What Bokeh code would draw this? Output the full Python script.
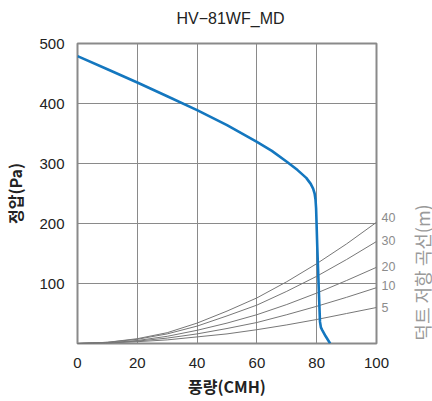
import math
from bokeh.plotting import figure
from bokeh.layouts import row, column
from bokeh.models import Range1d, FixedTicker, LinearAxis
from bokeh.core.properties import value
from bokeh.embed import file_html
from bokeh.resources import INLINE

# ---- data ----
fan_flow = [0, 10, 20, 30, 40, 50, 60, 65, 70, 73.6, 76.5, 78.0, 78.8, 79.3, 79.6,
            79.8, 80.2, 80.7, 81.1, 81.4, 81.9, 83.0, 84.5]
fan_pressure = [479, 457, 435, 412, 389, 364, 336, 321, 303, 289, 276, 266, 258, 250, 240,
                225, 160, 90, 36, 27, 22, 12, 0]

duct_flow = [0, 10, 20, 30, 40, 50, 60, 70, 80, 90, 100]
duct_names = ["5", "10", "20", "30", "40"]
duct_curves = {
    "5":  [0, 1, 3, 6, 11, 16, 23, 31, 40, 50, 60],
    "10": [0, 1, 4, 9, 16, 25, 35, 48, 62, 77, 93],
    "20": [0, 1, 5, 12, 22, 34, 48, 65, 84, 105, 127],
    "30": [0, 2, 7, 16, 29, 46, 64, 87, 112, 140, 170],
    "40": [0, 2, 8, 18, 34, 54, 76, 103, 133, 166, 202],
}
label_offsets = {"5": 0, "10": 3, "20": 1, "30": 1, "40": 8}

x_ticks = [0, 20, 40, 60, 80, 100]
y_ticks = [100, 200, 300, 400, 500]

title_text = "HV\u221281WF_MD"
x_label = "풍량(CMH)"
y_label = "정압(Pa)"
right_label = "덕트 저항 곡선(m)"

LATIN = "Liberation Sans"
KR = "Noto Sans CJK KR"

TITLE_H = 30
W, H = 432, 401
RIGHT_W = 32
FRAME_TOP, FRAME_BOTTOM = 43, 343


def bare(width, height, xr, yr):
    f = figure(width=width, height=height, output_backend="svg", toolbar_location=None,
               title=None, x_axis_type=None, y_axis_type=None,
               x_range=Range1d(*xr), y_range=Range1d(*yr),
               min_border_left=0, min_border_right=0, min_border_top=0, min_border_bottom=0)
    f.grid.visible = False
    f.outline_line_color = None
    f.background_fill_color = "white"
    f.border_fill_color = "white"
    return f


# title strip (coordinates = page pixels)
pt = bare(W, TITLE_H, (0, W), (TITLE_H, 0))
pt.text(x=[230], y=[17.5], text=[title_text], text_font=value(LATIN), text_font_size="16px",
        text_color="#222222", text_align="center", text_baseline="middle")

p = figure(width=W - RIGHT_W, height=H - TITLE_H, output_backend="svg", toolbar_location=None,
           title=None, x_range=Range1d(0, 100), y_range=Range1d(0, 500),
           min_border_left=77, min_border_right=24, min_border_top=FRAME_TOP - TITLE_H,
           min_border_bottom=H - FRAME_BOTTOM)
p.background_fill_color = "white"
p.border_fill_color = "white"
p.outline_line_color = "#8a8a8a"
p.outline_line_width = 2

p.xaxis.ticker = FixedTicker(ticks=x_ticks)
p.yaxis.ticker = FixedTicker(ticks=y_ticks)
for ax in (p.xaxis, p.yaxis):
    ax.axis_line_color = None
    ax.major_tick_line_color = None
    ax.minor_tick_line_color = None
    ax.major_tick_out = 0
    ax.major_tick_in = 0
    ax.major_label_text_font = LATIN
    ax.major_label_text_font_size = "15px"
    ax.major_label_text_color = "#222222"
    ax.axis_label_text_font = KR
    ax.axis_label_text_font_size = "16px"
    ax.axis_label_text_font_style = "bold"
    ax.axis_label_text_color = "#222222"
p.xaxis.major_label_standoff = 14
p.yaxis.major_label_standoff = 13
p.xaxis.axis_label = x_label
p.yaxis.axis_label = y_label
p.xaxis.axis_label_standoff = 3
p.yaxis.axis_label_standoff = 9

p.xgrid.grid_line_color = "#8a8a8a"
p.ygrid.grid_line_color = "#8a8a8a"
p.xgrid.grid_line_width = 1
p.ygrid.grid_line_width = 1

# duct resistance curves
for name in duct_names:
    p.line(duct_flow, duct_curves[name], line_color="#777777", line_width=1)

# fan curve
p.line(fan_flow, fan_pressure, line_color="#1477bf", line_width=2.6)

# curve labels (right axis ticks at the curve ends)
label_ticks = [int(duct_curves[n][-1] + label_offsets[n]) for n in duct_names]
lab_axis = LinearAxis(ticker=FixedTicker(ticks=label_ticks),
                      major_label_overrides={t: n for t, n in zip(label_ticks, duct_names)})
lab_axis.axis_line_color = None
lab_axis.major_tick_line_color = None
lab_axis.minor_tick_line_color = None
lab_axis.major_tick_out = 0
lab_axis.major_tick_in = 0
lab_axis.major_label_standoff = 5
lab_axis.major_label_text_font = LATIN
lab_axis.major_label_text_font_size = "12.5px"
lab_axis.major_label_text_color = "#8c8c8c"
p.add_layout(lab_axis, "right")

# right-side rotated title strip; its frame is aligned with the main frame,
# so the y range spans the main frame in page pixels
p2 = bare(RIGHT_W, H - TITLE_H, (0, RIGHT_W), (FRAME_BOTTOM, FRAME_TOP))
p2.text(x=[21], y=[272], text=[right_label], angle=math.pi / 2,
        text_font=value(KR), text_font_size="18px", text_color="#9a9a9a",
        text_align="center", text_baseline="middle", text_line_height=1.0)

layout = column(pt, row(p, p2, spacing=0), spacing=0)
open("out.html", "w").write(file_html(layout, INLINE))
